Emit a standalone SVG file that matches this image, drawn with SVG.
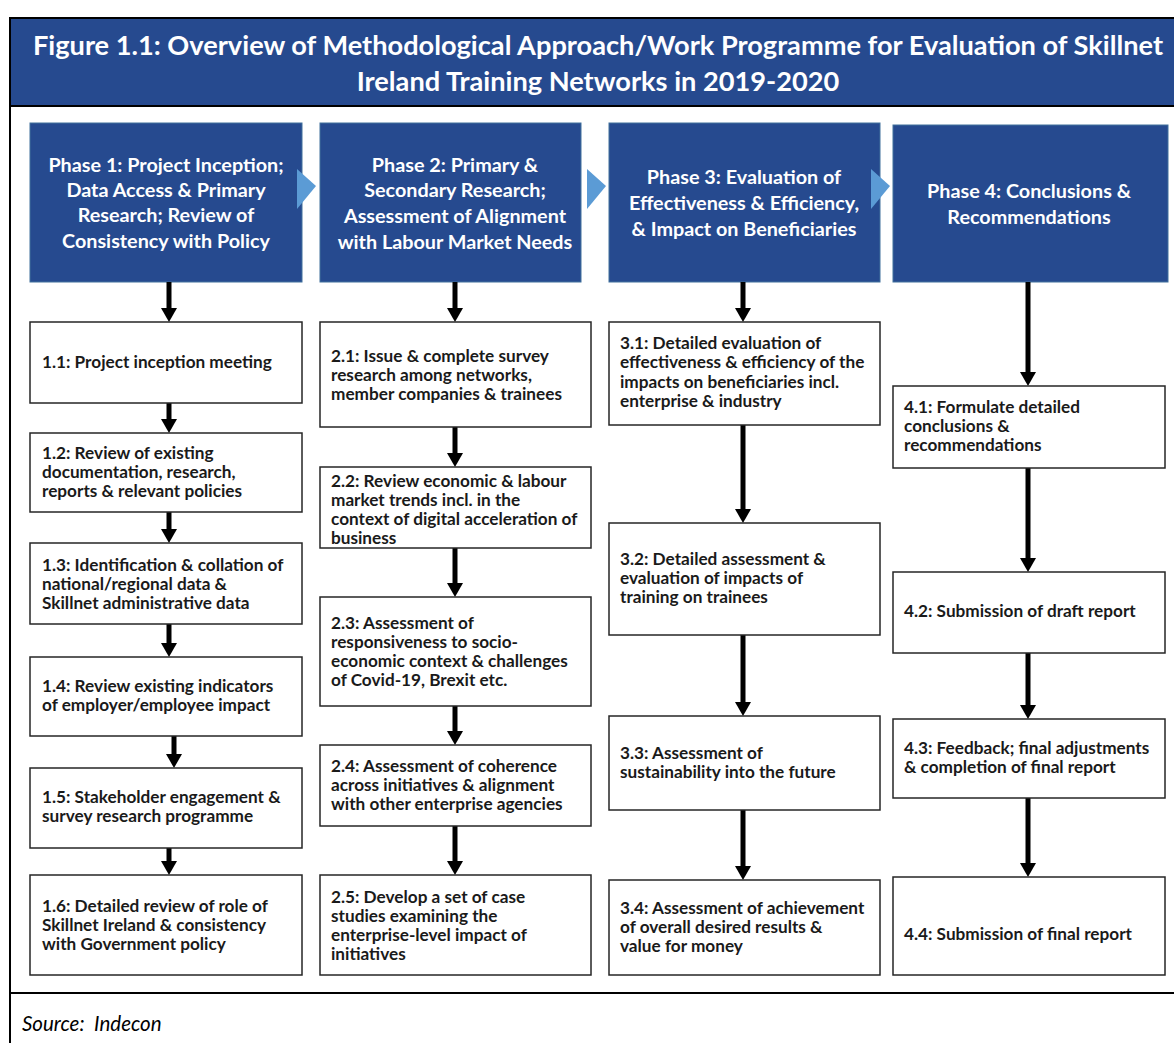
<svg xmlns="http://www.w3.org/2000/svg" width="1174" height="1043" viewBox="0 0 1174 1043">
<style>
.title{font-family:Lato,"Liberation Sans",sans-serif;font-weight:bold;font-size:27.2px;fill:#fff;text-anchor:middle}
.ph{fill:#264a8f;stroke:#41719c;stroke-width:1}
.pht{font-family:Lato,"Liberation Sans",sans-serif;font-weight:bold;font-size:19.8px;fill:#fff;text-anchor:middle}
.box{fill:#fff;stroke:#262626;stroke-width:1.5}
.bt{font-family:Lato,"Liberation Sans",sans-serif;font-weight:bold;font-size:17.2px;fill:#1a1a1a}
.chev{fill:#5b9bd5}
.con{stroke:#000;stroke-width:5;fill:none;marker-end:url(#ah)}
.frame{stroke:#000;stroke-width:2;fill:none}
.src{font-family:Lato,"Liberation Sans",sans-serif;font-style:italic;font-size:20.5px;fill:#000}
</style>
<defs>
<marker id="ah" viewBox="0 0 14 16" refX="0" refY="8" markerWidth="14" markerHeight="16" markerUnits="userSpaceOnUse" orient="auto">
<path d="M0,0 L14,8 L0,16 z" fill="#000"/>
</marker>
</defs>
<rect width="1174" height="1043" fill="#fff"/>
<g id="title">
<rect x="10" y="19" width="1170" height="87" fill="#264a8f"/>
<line class="frame" x1="9" y1="18" x2="1174" y2="18"/>
<line class="frame" x1="9" y1="106" x2="1174" y2="106"/>
<text class="title" x="598" y="55">Figure 1.1: Overview of Methodological Approach/Work Programme for Evaluation of Skillnet</text>
<text class="title" x="598" y="91">Ireland Training Networks in 2019-2020</text>
</g>
<g id="frame">
<line class="frame" x1="10" y1="18" x2="10" y2="1043"/>
<line class="frame" x1="9" y1="993" x2="1174" y2="993"/>
</g>
<g id="phase1"><rect class="ph" x="30" y="123" width="272" height="159"/>
<text class="pht" x="166" y="172">Phase 1: Project Inception;</text>
<text class="pht" x="166" y="197">Data Access &amp; Primary</text>
<text class="pht" x="166" y="222">Research; Review of</text>
<text class="pht" x="166" y="248">Consistency with Policy</text></g>
<g id="phase2"><rect class="ph" x="320" y="123" width="261" height="159"/>
<text class="pht" x="455" y="172">Phase 2: Primary &amp;</text>
<text class="pht" x="455" y="197">Secondary Research;</text>
<text class="pht" x="455" y="223">Assessment of Alignment</text>
<text class="pht" x="455" y="249">with Labour Market Needs</text></g>
<g id="phase3"><rect class="ph" x="609" y="123" width="271" height="159"/>
<text class="pht" x="744" y="184">Phase 3: Evaluation of</text>
<text class="pht" x="744" y="210">Effectiveness &amp; Efficiency,</text>
<text class="pht" x="744" y="236">&amp; Impact on Beneficiaries</text></g>
<g id="phase4"><rect class="ph" x="893" y="125" width="275" height="157"/>
<text class="pht" x="1029" y="198">Phase 4: Conclusions &amp;</text>
<text class="pht" x="1029" y="224">Recommendations</text></g>
<g id="chevrons">
<path class="chev" d="M297,169 L316,186 L297,209 z"/>
<path class="chev" d="M587,169 L606,186 L587,209 z"/>
<path class="chev" d="M871,169 L890,186 L871,209 z"/>
</g>
<g id="connectors">
<line class="con" x1="169" y1="282" x2="169" y2="308"/>
<line class="con" x1="169" y1="403" x2="169" y2="419"/>
<line class="con" x1="169" y1="512" x2="169" y2="529"/>
<line class="con" x1="169" y1="624" x2="169" y2="643"/>
<line class="con" x1="174" y1="736" x2="174" y2="754"/>
<line class="con" x1="169" y1="848" x2="169" y2="861"/>
<line class="con" x1="455" y1="282" x2="455" y2="308"/>
<line class="con" x1="455" y1="427" x2="455" y2="453"/>
<line class="con" x1="455" y1="548" x2="455" y2="583"/>
<line class="con" x1="455" y1="706" x2="455" y2="731"/>
<line class="con" x1="455" y1="826" x2="455" y2="861"/>
<line class="con" x1="743" y1="282" x2="743" y2="308"/>
<line class="con" x1="743" y1="425" x2="743" y2="509"/>
<line class="con" x1="743" y1="635" x2="743" y2="702"/>
<line class="con" x1="743" y1="810" x2="743" y2="866"/>
<line class="con" x1="1028" y1="282" x2="1028" y2="372"/>
<line class="con" x1="1028" y1="468" x2="1028" y2="558"/>
<line class="con" x1="1028" y1="653" x2="1028" y2="705"/>
<line class="con" x1="1028" y1="798" x2="1028" y2="863"/>
</g>
<g id="n11"><rect class="box" x="30" y="322" width="272" height="81"/>
<text class="bt" x="42" y="368">1.1: Project inception meeting</text></g>
<g id="n12"><rect class="box" x="30" y="433" width="272" height="79"/>
<text class="bt" x="42" y="459">1.2: Review of existing</text>
<text class="bt" x="42" y="478">documentation, research,</text>
<text class="bt" x="42" y="497">reports &amp; relevant policies</text></g>
<g id="n13"><rect class="box" x="30" y="543" width="272" height="81"/>
<text class="bt" x="42" y="571">1.3: Identification &amp; collation of</text>
<text class="bt" x="42" y="590">national/regional data &amp;</text>
<text class="bt" x="42" y="609">Skillnet administrative data</text></g>
<g id="n14"><rect class="box" x="30" y="657" width="272" height="79"/>
<text class="bt" x="42" y="692">1.4: Review existing indicators</text>
<text class="bt" x="42" y="711">of employer/employee impact</text></g>
<g id="n15"><rect class="box" x="30" y="768" width="272" height="80"/>
<text class="bt" x="42" y="803">1.5: Stakeholder engagement &amp;</text>
<text class="bt" x="42" y="822">survey research programme</text></g>
<g id="n16"><rect class="box" x="30" y="875" width="272" height="100"/>
<text class="bt" x="42" y="912">1.6: Detailed review of role of</text>
<text class="bt" x="42" y="931">Skillnet Ireland &amp; consistency</text>
<text class="bt" x="42" y="950">with Government policy</text></g>
<g id="n21"><rect class="box" x="320" y="322" width="271" height="105"/>
<text class="bt" x="331" y="362">2.1: Issue &amp; complete survey</text>
<text class="bt" x="331" y="381">research among networks,</text>
<text class="bt" x="331" y="400">member companies &amp; trainees</text></g>
<g id="n22"><rect class="box" x="320" y="467" width="271" height="81"/>
<text class="bt" x="331" y="487">2.2: Review economic &amp; labour</text>
<text class="bt" x="331" y="506">market trends incl. in the</text>
<text class="bt" x="331" y="525">context of digital acceleration of</text>
<text class="bt" x="331" y="544">business</text></g>
<g id="n23"><rect class="box" x="320" y="597" width="271" height="109"/>
<text class="bt" x="331" y="629">2.3: Assessment of</text>
<text class="bt" x="331" y="648">responsiveness to socio-</text>
<text class="bt" x="331" y="667">economic context &amp; challenges</text>
<text class="bt" x="331" y="686">of Covid-19, Brexit etc.</text></g>
<g id="n24"><rect class="box" x="320" y="745" width="271" height="81"/>
<text class="bt" x="331" y="772">2.4: Assessment of coherence</text>
<text class="bt" x="331" y="791">across initiatives &amp; alignment</text>
<text class="bt" x="331" y="810">with other enterprise agencies</text></g>
<g id="n25"><rect class="box" x="320" y="875" width="271" height="100"/>
<text class="bt" x="331" y="903">2.5: Develop a set of case</text>
<text class="bt" x="331" y="922">studies examining the</text>
<text class="bt" x="331" y="941">enterprise-level impact of</text>
<text class="bt" x="331" y="960">initiatives</text></g>
<g id="n31"><rect class="box" x="609" y="322" width="271" height="103"/>
<text class="bt" x="620" y="349">3.1: Detailed evaluation of</text>
<text class="bt" x="620" y="368">effectiveness &amp; efficiency of the</text>
<text class="bt" x="620" y="388">impacts on beneficiaries incl.</text>
<text class="bt" x="620" y="407">enterprise &amp; industry</text></g>
<g id="n32"><rect class="box" x="609" y="523" width="271" height="112"/>
<text class="bt" x="620" y="565">3.2: Detailed assessment &amp;</text>
<text class="bt" x="620" y="584">evaluation of impacts of</text>
<text class="bt" x="620" y="603">training on trainees</text></g>
<g id="n33"><rect class="box" x="609" y="716" width="271" height="94"/>
<text class="bt" x="620" y="759">3.3: Assessment of</text>
<text class="bt" x="620" y="778">sustainability into the future</text></g>
<g id="n34"><rect class="box" x="609" y="880" width="271" height="95"/>
<text class="bt" x="620" y="914">3.4: Assessment of achievement</text>
<text class="bt" x="620" y="933">of overall desired results &amp;</text>
<text class="bt" x="620" y="952">value for money</text></g>
<g id="n41"><rect class="box" x="893" y="386" width="272" height="82"/>
<text class="bt" x="904" y="413">4.1: Formulate detailed</text>
<text class="bt" x="904" y="432">conclusions &amp;</text>
<text class="bt" x="904" y="451">recommendations</text></g>
<g id="n42"><rect class="box" x="893" y="572" width="272" height="81"/>
<text class="bt" x="904" y="617">4.2: Submission of draft report</text></g>
<g id="n43"><rect class="box" x="893" y="719" width="272" height="79"/>
<text class="bt" x="904" y="754">4.3: Feedback; final adjustments</text>
<text class="bt" x="904" y="773">&amp; completion of final report</text></g>
<g id="n44"><rect class="box" x="893" y="877" width="272" height="98"/>
<text class="bt" x="904" y="940">4.4: Submission of final report</text></g>
<g id="source"><text class="src" x="22" y="1031" xml:space="preserve">Source:  Indecon</text></g>
</svg>
